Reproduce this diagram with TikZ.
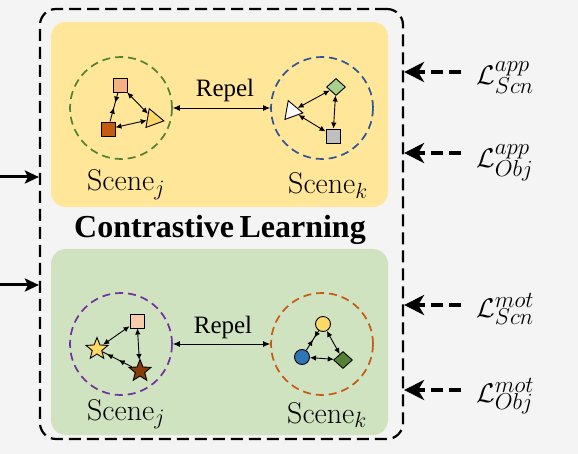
\RequirePackage{fix-cm}
\documentclass[tikz,border=0pt]{standalone}
\usepackage{fontspec}
\newfontfamily\tms{Liberation Serif}
\DeclareMathSizes{30}{30}{22}{16}
\DeclareMathSizes{27}{27}{23}{16}
\usetikzlibrary{arrows.meta,shapes.geometric,decorations.markings}
\definecolor{bg}{HTML}{F4F4F4}
\definecolor{yelbox}{HTML}{FFE699}
\definecolor{grnbox}{HTML}{D0E3C1}
\definecolor{cgreen}{HTML}{548235}
\definecolor{cblue}{HTML}{2F5597}
\definecolor{cpurple}{HTML}{7030A0}
\definecolor{corange}{HTML}{C55A11}
\definecolor{pinkA}{HTML}{F4B183}
\definecolor{pinkB}{HTML}{F8CBAD}
\definecolor{brownA}{HTML}{C55A11}
\definecolor{brownB}{HTML}{843C0C}
\definecolor{goldA}{HTML}{FFD966}
\definecolor{lgreen}{HTML}{A9D18E}
\definecolor{grayA}{HTML}{BFBFBF}
\definecolor{blueA}{HTML}{2E75B6}
\begin{document}
\begin{tikzpicture}[x=1pt,y=-1pt,
  outerbox/.style={draw=black,line width=2.2pt,dash pattern=on 12pt off 6pt,rounded corners=16pt,minimum width=363pt,minimum height=430pt,inner sep=0pt},
  scenecirc/.style={circle,draw,line width=1.7pt,dash pattern=on 8pt off 5pt,minimum size=102pt,inner sep=0pt},
  obj/.style={draw=black,line width=0.9pt,inner sep=0pt},
  sq/.style={obj,rectangle,minimum size=14pt},
  tri/.style={obj,regular polygon,regular polygon sides=3,minimum size=22pt,shape border rotate=-100},
  dia/.style={obj,diamond,minimum width=19pt,minimum height=17pt},
  starshape/.style={obj,star,star points=5,star point ratio=2.3,minimum size=23pt},
  dot/.style={obj,circle,minimum size=15pt},
  link/.style={line width=0.9pt,{Latex[length=6pt,width=5.5pt]}-{Latex[length=6pt,width=5.5pt]}},
  midin/.style={line width=0.9pt,postaction=decorate,decoration={markings,
     mark=at position 0.35 with {\arrow{Latex[length=6pt,width=5.5pt]}},
     mark=at position 0.72 with {\arrow{Latex[reversed,length=6pt,width=5.5pt]}}}},
  midfwd/.style={line width=0.9pt,postaction=decorate,decoration={markings,
     mark=at position 0.45 with {\arrow{Latex[length=6pt,width=5.5pt]}},
     mark=at position 0.85 with {\arrow{Latex[length=6pt,width=5.5pt]}}}},
  rep/.style={line width=0.9pt,{Latex[length=7pt,width=6pt]}-{Latex[length=7pt,width=6pt]}},
  reptext/.style={font=\tms\fontsize{25}{27}\selectfont,inner sep=0pt},
  scenetext/.style={font=\fontsize{30}{32}\selectfont,inner sep=0pt},
  losstext/.style={font=\fontsize{27}{29}\selectfont,inner sep=0pt},
  inarrow/.style={line width=3pt,-{Stealth[length=14pt,width=13pt,inset=3pt]}},
  lossarrow/.style={line width=3.6pt,dash pattern=on 12pt off 6pt,-{Stealth[length=20pt,width=20pt,inset=6pt]}}
]
\fill[bg] (0,0) rectangle (578,454);
\useasboundingbox (0,0) rectangle (578,454);

% panels
\fill[yelbox,rounded corners=15pt] (51,22) rectangle (388,207);
\fill[grnbox,rounded corners=15pt] (51,249) rectangle (388,435);
\node[outerbox] (outer) at (221.5,224) {};

\node[font=\tms\bfseries\fontsize{32}{34}\selectfont,inner sep=0pt,anchor=base] (cl) at (220,238) {Contrastive\,Learning};

% top scenes
\node[scenecirc,draw=cgreen] (cj1) at (121,108) {};
\node[scenecirc,draw=cblue] (ck1) at (322,108) {};
\draw[rep] (cj1) -- (ck1);
\node[reptext,anchor=base] (rep1) at (225,97) {Repel};
\node[scenetext,anchor=base] (sj1) at (126,191) {Scene$_j$};
\node[scenetext,anchor=base] (sk1) at (328,194) {Scene$_k$};

\node[sq,fill=pinkA] (a1) at (120,85) {};
\node[sq,fill=brownA] (a2) at (108,129) {};
\node[tri,fill=goldA] (a3) at (153,119) {};
\draw[midin] (a1) -- (a2);
\draw[link] (a1) -- (a3);
\draw[link] (a2) -- (a3);

\node[dia,fill=lgreen] (b1) at (336,87) {};
\node[sq,fill=grayA] (b2) at (333,136) {};
\node[tri,fill=white] (b3) at (292,111) {};
\draw[link] (b1) -- (b3);
\draw[link] (b1) -- (b2);
\draw[link] (b3) -- (b2);

% bottom scenes
\node[scenecirc,draw=cpurple] (cj2) at (121,344) {};
\node[scenecirc,draw=corange] (ck2) at (322,344) {};
\draw[rep] (cj2) -- (ck2);
\node[reptext,anchor=base] (rep2) at (223,333) {Repel};
\node[scenetext,anchor=base] (sj2) at (126,420) {Scene$_j$};
\node[scenetext,anchor=base] (sk2) at (327,423) {Scene$_k$};

\node[sq,fill=pinkB] (c1) at (137,321) {};
\node[starshape,fill=goldA] (c2) at (97,349) {};
\node[starshape,fill=brownB] (c3) at (140,371) {};
\draw[link] (c1) -- (c2);
\draw[link] (c1) -- (c3);
\draw[midfwd] (c3) -- (c2);

\node[dot,fill=goldA] (d1) at (323,324) {};
\node[dot,fill=blueA] (d2) at (302,357) {};
\node[dia,fill=cgreen] (d3) at (343,360) {};
\draw[midin] (d1) -- (d2);
\draw[link] (d1) -- (d3);
\draw[link] (d2) -- (d3);

% inputs on the left
\coordinate (in1) at (0,177);
\coordinate (in2) at (0,285);
\draw[inarrow] (in1) -- (in1 -| outer.west);
\draw[inarrow] (in2) -- (in2 -| outer.west);

% losses on the right
\coordinate (s1) at (461,72);
\coordinate (s2) at (461,153);
\coordinate (s3) at (461,305);
\coordinate (s4) at (461,390);
\draw[lossarrow] (s1) -- (s1 -| outer.east);
\draw[lossarrow] (s2) -- (s2 -| outer.east);
\draw[lossarrow] (s3) -- (s3 -| outer.east);
\draw[lossarrow] (s4) -- (s4 -| outer.east);
\node[losstext,anchor=base west] (l1) at (476,85) {$\mathcal{L}^{app}_{Scn}$};
\node[losstext,anchor=base west] (l2) at (476,168) {$\mathcal{L}^{app}_{Obj}$};
\node[losstext,anchor=base west] (l3) at (476,317) {$\mathcal{L}^{mot}_{Scn}$};
\node[losstext,anchor=base west] (l4) at (476,402) {$\mathcal{L}^{mot}_{Obj}$};
\end{tikzpicture}
\end{document}
